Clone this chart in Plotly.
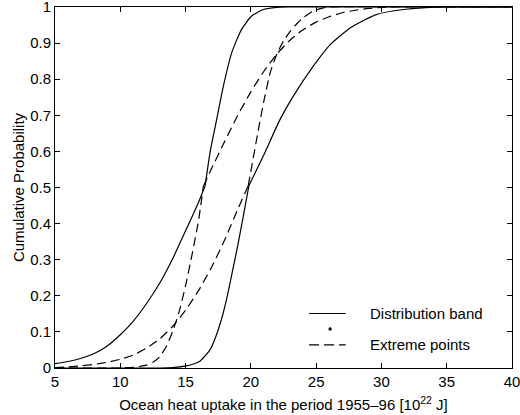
import plotly.graph_objects as go

# Distribution band: upper (left) solid curve
band_upper_x = [5, 6, 7, 8, 9, 10, 11, 12, 13, 14, 15, 16, 16.5,
                16.87, 17.38, 17.89, 18.53, 19.29, 20.06, 20.95, 21.97, 23, 40]
band_upper_p = [0.012, 0.018, 0.027, 0.04, 0.061, 0.092, 0.13, 0.178, 0.234, 0.302, 0.38, 0.46, 0.505,
                0.596, 0.688, 0.78, 0.873, 0.938, 0.975, 0.993, 0.999, 1.0, 1.0]

# Distribution band: lower (right) solid curve
band_lower_x = [5, 13, 14, 14.95, 15.6, 16.1, 16.87, 17.3, 17.75, 18.2, 18.6, 19.0, 19.42, 19.85,
                20.95, 22.23, 23.25, 24.78, 26.06, 26.8, 27.6, 29.6, 31.7, 33.7, 35, 40]
band_lower_p = [0.0, 0.0, 0.001, 0.005, 0.011, 0.019, 0.05, 0.085, 0.135, 0.2, 0.27, 0.34, 0.42, 0.505,
                0.587, 0.688, 0.753, 0.836, 0.895, 0.919, 0.942, 0.979, 0.993, 0.999, 1.0, 1.0]

# Extreme points: steep-then-shallow dashed curve
extreme_a_x = [5, 10, 11, 12, 12.5, 13, 13.5, 14, 14.5, 15, 15.5, 16, 16.36,
               17, 18, 19, 20, 21, 22, 23, 24, 25, 26, 27, 28, 29, 30, 31, 40]
extreme_a_p = [0.0, 0.0, 0.002, 0.008, 0.016, 0.03, 0.058, 0.1, 0.155, 0.228, 0.315, 0.41, 0.503,
               0.553, 0.628, 0.7, 0.765, 0.822, 0.87, 0.908, 0.937, 0.958, 0.973, 0.984, 0.991, 0.996, 0.999, 1.0, 1.0]

# Extreme points: shallow-then-steep dashed curve
extreme_b_x = [5, 6, 7, 8, 9, 10, 11, 12, 13, 14, 15, 16, 17, 18, 19, 19.8,
               20.1, 20.5, 21.0, 21.5, 22, 22.5, 23, 23.5, 24, 24.5, 25, 25.5, 26, 40]
extreme_b_p = [0.001, 0.003, 0.006, 0.01, 0.016, 0.024, 0.036, 0.055, 0.08, 0.115, 0.16, 0.215, 0.28, 0.355, 0.44, 0.505,
               0.565, 0.645, 0.74, 0.82, 0.87, 0.906, 0.932, 0.953, 0.97, 0.983, 0.992, 0.997, 1.0, 1.0]

x_ticks = [5, 10, 15, 20, 25, 30, 35, 40]
y_ticks = [0, 0.1, 0.2, 0.3, 0.4, 0.5, 0.6, 0.7, 0.8, 0.9, 1]
y_tick_labels = ["0", "0.1", "0.2", "0.3", "0.4", "0.5", "0.6", "0.7", "0.8", "0.9", "1"]

legend_labels = ["Distribution band", "Extreme points"]

FONT = "Liberation Sans, Arial, Helvetica, sans-serif"
DASH = "9px,5px"
LW = 1.2

fig = go.Figure()


def add_curve(xs, ps, dash=None):
    # split at the median kink so each half is smoothed separately
    k = min(range(len(ps)), key=lambda i: abs(ps[i] - 0.505))
    for sl in (slice(0, k + 1), slice(k, None)):
        fig.add_trace(go.Scatter(x=xs[sl], y=ps[sl], mode="lines",
                                 line=dict(color="black", width=LW, dash=dash, shape="spline", smoothing=0.6),
                                 showlegend=False, hoverinfo="skip"))


add_curve(band_upper_x, band_upper_p)
add_curve(band_lower_x, band_lower_p)
add_curve(extreme_a_x, extreme_a_p, DASH)
add_curve(extreme_b_x, extreme_b_p, DASH)

# Manual legend (paper coordinates)
fig.add_shape(type="line", xref="paper", yref="paper", x0=0.556, x1=0.636, y0=0.151, y1=0.151,
              line=dict(color="black", width=LW))
fig.add_shape(type="circle", xref="paper", yref="paper", x0=0.599, x1=0.605, y0=0.104, y1=0.112,
              line=dict(color="black", width=0.5), fillcolor="black")
fig.add_shape(type="line", xref="paper", yref="paper", x0=0.556, x1=0.636, y0=0.064, y1=0.064,
              line=dict(color="black", width=LW, dash="10px,5px"))
fig.add_annotation(text=legend_labels[0], xref="paper", yref="paper", x=0.684, y=0.151,
                   xanchor="left", yanchor="middle", showarrow=False,
                   font=dict(family=FONT, size=15, color="black"))
fig.add_annotation(text=legend_labels[1], xref="paper", yref="paper", x=0.684, y=0.064,
                   xanchor="left", yanchor="middle", showarrow=False,
                   font=dict(family=FONT, size=15, color="black"))

axis_common = dict(showline=True, linecolor="black", linewidth=1, mirror="ticks",
                   ticks="inside", ticklen=5, tickcolor="black", showgrid=False, zeroline=False,
                   ticklabeloverflow="allow",
                   tickfont=dict(family=FONT, size=15, color="black"))

fig.update_xaxes(range=[5, 40], tickvals=x_ticks, ticktext=[str(v) for v in x_ticks],
                 title=dict(text="Ocean heat uptake in the period 1955–96 [10<sup>22</sup> J]",
                            font=dict(family=FONT, size=15, color="black"), standoff=10),
                 **axis_common)
fig.update_yaxes(range=[0, 1], tickvals=y_ticks, ticktext=y_tick_labels,
                 title=dict(text="Cumulative Probability",
                            font=dict(family=FONT, size=15, color="black"), standoff=1),
                 **axis_common)

fig.update_layout(width=520, height=415, margin=dict(l=55, r=8, t=7, b=47, autoexpand=False),
                  plot_bgcolor="white", paper_bgcolor="white",
                  font=dict(family=FONT, size=15, color="black"))

fig.write_html("out.html", config={"displayModeBar": False},
               post_script="document.body.style.margin='0';document.body.style.overflow='hidden';")
